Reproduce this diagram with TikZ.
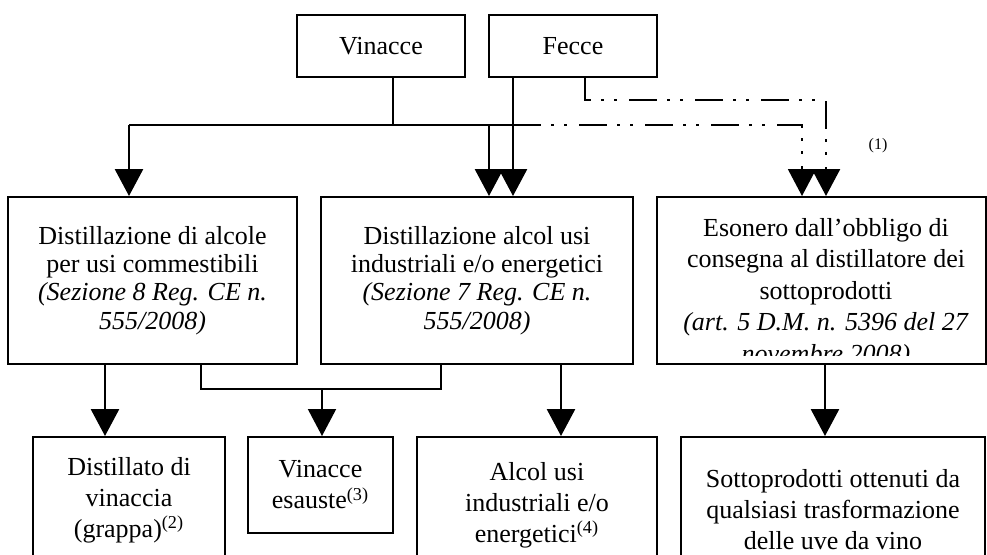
\documentclass[tikz,border=0pt]{standalone}
\usepackage{fontspec}
\setmainfont{Liberation Serif}
\usetikzlibrary{arrows.meta, positioning}

\begin{document}
\begin{tikzpicture}[
    x=0.5pt, y=-0.5pt,
    box/.style={draw, rectangle, line width=1pt, inner sep=0pt, align=center, font=\fontsize{13}{15.5}\selectfont},
    tight/.style={font=\fontsize{13}{14.2}\selectfont},
    link/.style={line width=1pt},
    arrow/.style={line width=1.4pt, -{Triangle[length=13.5pt, width=14pt]}},
    thinarrow/.style={line width=1pt, -{Triangle[length=13.5pt, width=14pt]}},
    dashlow/.style={line width=1pt, dash pattern=on 14pt off 5pt on 1.5pt off 5pt on 1.5pt off 6pt, -{Triangle[length=13.5pt, width=14pt]}},
    dashtop/.style={line width=1.3pt, dash pattern=on 14pt off 5pt on 1.5pt off 5pt on 1.5pt off 6pt, -{Triangle[length=13.5pt, width=14pt]}}
]
\clip (0,0) rectangle (987,554);

% sources
\node[box, minimum width=84pt, minimum height=31pt] (vin) at (381,46) {Vinacce};
\node[box, minimum width=84pt, minimum height=31pt] (fec) at (573,46) {Fecce};

% distillation / exemption
\node[box, tight, minimum width=144.5pt, minimum height=83.5pt] (dist1) at (152.5,280.5)
    {Distillazione di alcole\\per usi commestibili\\\textit{(Sezione 8 Reg. CE n.}\\\textit{555/2008)}};
\node[box, tight, minimum width=156pt, minimum height=83.5pt] (dist2) at (477,280.5)
    {Distillazione alcol usi\\industriali e/o energetici\\\textit{(Sezione 7 Reg. CE n.}\\\textit{555/2008)}};
\node[box, minimum width=164.5pt, minimum height=83.5pt] (eson) at (821.5,280.5) {};
\begin{scope}
\clip (657,199) rectangle (986,355);
\node[box, draw=none, anchor=north, font=\fontsize{13}{15.75}\selectfont] (esontxt) at (826,217)
    {Esonero dall’obbligo di\\consegna al distillatore dei\\sottoprodotti\\\textit{(art. 5 D.M. n. 5396 del 27}\\\textit{novembre 2008)}};
\end{scope}
\node[font=\fontsize{8}{9}\selectfont] (n1) at (878,146) {(1)};

% products
\node[box, minimum width=96pt, minimum height=63pt] (grap) at (129,500)
    {Distillato di\\vinaccia\\(grappa)\textsuperscript{(2)}};
\node[box, minimum width=72.5pt, minimum height=48pt] (esau) at (320.5,485)
    {Vinacce\\esauste\textsuperscript{(3)}};
\node[box, minimum width=120pt, minimum height=68pt] (alc) at (537,505)
    {Alcol usi\\industriali e/o\\energetici\textsuperscript{(4)}};
\node[box, minimum width=152pt, minimum height=73pt] (sott) at (833,510)
    {Sottoprodotti ottenuti da\\qualsiasi trasformazione\\delle uve da vino};

% junction points
\coordinate (split) at (129,125);
\coordinate (vj) at (393,125);
\coordinate (aj) at (489,125);
\coordinate (fj) at (513,125);
\coordinate (d0) at (585,100);
\coordinate (d1) at (802,125);
\coordinate (d2) at (826,100);
\coordinate (m0) at (322,389);
\coordinate (m1) at (201,389);
\coordinate (m2) at (441,389);
\coordinate (o1) at (105,400);
\coordinate (o3) at (561,400);
\coordinate (o4) at (825,400);

% top connectors
\draw[link] (vj |- vin.south) -- (vj);
\draw[link] (split) -- (fj);
\draw[arrow] (split) -- (split |- dist1.north);
\draw[arrow] (aj) -- (aj |- dist2.north);
\draw[arrow] (fj |- fec.south) -- (fj |- dist2.north);
\draw[dashlow] (fj) -- (d1) -- (d1 |- eson.north);
\draw[dashtop] (d0 |- fec.south) -- (d0) -- (d2) -- (d2 |- eson.north);

% bottom connectors
\draw[link] (m1 |- dist1.south) -- (m1) -- (m2) -- (m2 |- dist2.south);
\draw[thinarrow] (m0) -- (m0 |- esau.north);
\draw[arrow] (o1 |- dist1.south) -- (o1 |- grap.north);
\draw[arrow] (o3 |- dist2.south) -- (o3 |- alc.north);
\draw[arrow] (o4 |- eson.south) -- (o4 |- sott.north);

\end{tikzpicture}
\end{document}
